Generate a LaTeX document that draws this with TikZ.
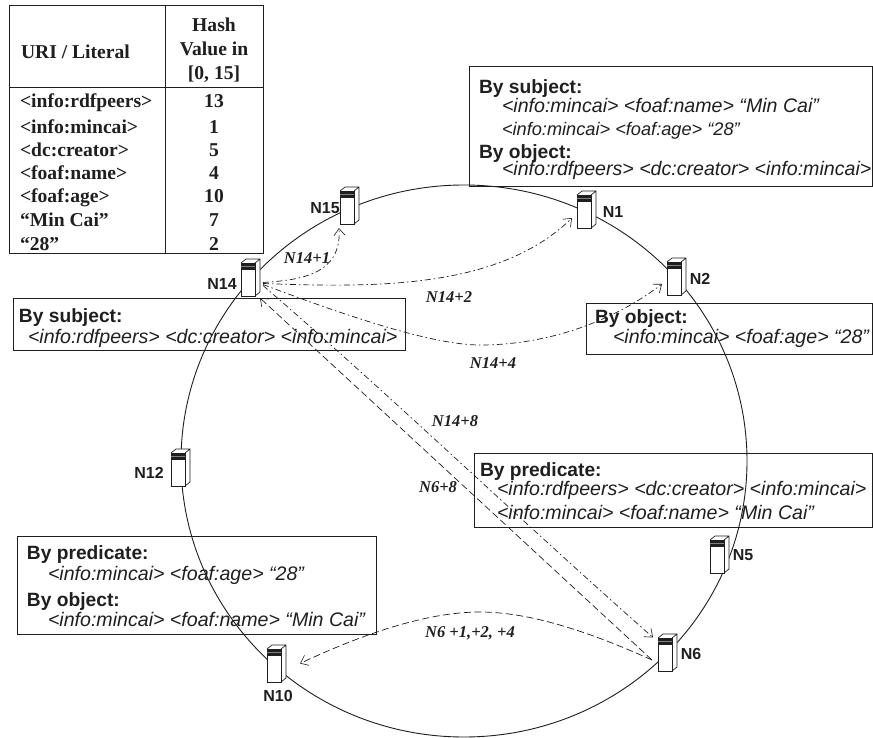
\documentclass[tikz,border=0pt]{standalone}
\usepackage{fontspec}
\setmainfont{Liberation Serif}
\setsansfont{Liberation Sans}
\usetikzlibrary{arrows.meta}
\definecolor{ink}{gray}{0.12}
\tikzset{
  x=1pt,y=-1pt,
  inner sep=0pt,outer sep=0pt,
  >={Straight Barb[length=7pt,width=11pt,line width=.6pt]},
  frame/.style={draw=ink,line width=1pt,rectangle},
  head/.style={anchor=base west,font=\sffamily\bfseries\fontsize{19.2}{21}\selectfont,text=ink},
  triple/.style={anchor=base west,font=\sffamily\itshape\fontsize{19.6}{21}\selectfont,text=ink},
  smalltriple/.style={anchor=base west,font=\sffamily\itshape\fontsize{18.2}{20}\selectfont,text=ink},
  cell/.style={anchor=base west,font=\bfseries\fontsize{19.6}{21}\selectfont,text=ink},
  num/.style={anchor=base,font=\bfseries\fontsize{19.6}{21}\selectfont,text=ink},
  hop/.style={font=\bfseries\itshape\fontsize{16.5}{18}\selectfont,text=ink},
  srvlabel/.style={font=\sffamily\bfseries\fontsize{16}{18}\selectfont,text=ink},
  srvbox/.style={draw=ink,fill=white,line width=.7pt,rectangle,minimum width=14pt,minimum height=33pt},
  link/.style={draw=ink,line width=.7pt},
  dashdot/.style={link,dash pattern=on 6pt off 3pt on 1.5pt off 3pt},
  longdash/.style={link,dash pattern=on 7pt off 3.5pt},
}
\newcommand{\srvunit}[2]{%
  \node[srvbox] (#1) at (#2) {};
  \fill[white] (#1.north west) -- ++(5,-4) -- ++(14,0) -- ++(0,33) -- ++(-5,4) -- ++(-14,0) -- cycle;
  \node[srvbox] (#1) at (#2) {};
  \draw[ink,line width=.7pt] (#1.north west) -- ++(5,-4) -- ++(14,0) -- ++(0,33) -- (#1.south east) (#1.north east) -- ++(5,-4);
  \fill[ink] ([shift={(.4,.4)}]#1.north west) rectangle ([shift={(-.4,7)}]#1.north east);
  \draw[gray,line width=.5pt] ([shift={(.4,3)}]#1.north west) -- ([shift={(-.4,3)}]#1.north east);
}
\begin{document}
\begin{tikzpicture}
\useasboundingbox (0,0) rectangle (873,738);
\fill[white] (0,0) rectangle (873,738);
% ring
\node[draw=none,minimum size=0pt] (ringc) at (464,461) {};
\draw[ink,line width=.9pt] (ringc) ellipse [x radius=283pt,y radius=276pt];
% table
\node[frame,minimum width=254pt,minimum height=248pt] (tbl) at (136,130) {};
\coordinate (colT) at (165,6);
\coordinate (colB) at (165,254);
\coordinate (rowL) at (9,88);
\coordinate (rowR) at (263,88);
\draw[ink,line width=1pt] (colT) -- (colB) (rowL) -- (rowR);
\node[cell] (thA) at (21,59) {URI / Literal};
\node[num] (thB) at (214,32) {Hash};
\node[num] (thC) at (214,56) {Value in};
\node[num] (thD) at (214,80) {[0, 15]};
\node[cell] (a1) at (20,108) {<info:rdfpeers>};
\node[cell] (a2) at (20,134) {<info:mincai>};
\node[cell] (a3) at (20,157) {<dc:creator>};
\node[cell] (a4) at (20,180) {<foaf:name>};
\node[cell] (a5) at (20,203) {<foaf:age>};
\node[cell] (a6) at (20,227) {“Min Cai”};
\node[cell] (a7) at (20,251) {“28”};
\node[num] (b1) at (214,108) {13};
\node[num] (b2) at (214,134) {1};
\node[num] (b3) at (214,157) {5};
\node[num] (b4) at (214,180) {4};
\node[num] (b5) at (214,203) {10};
\node[num] (b6) at (214,227) {7};
\node[num] (b7) at (214,251) {2};
% boxes
\node[frame,minimum width=392pt,minimum height=52pt] (boxA) at (209,324) {};
\node[head] (boxAa) at (19,322) {By subject:};
\node[triple] (boxAb) at (28,343) {<info:rdfpeers> <dc:creator> <info:mincai>};
\node[frame,minimum width=403pt,minimum height=120pt] (boxB) at (670.5,127) {};
\node[head] (boxBa) at (479,94) {By subject:};
\node[triple] (boxBb) at (502,113) {<info:mincai> <foaf:name> “Min Cai”};
\node[smalltriple] (boxBc) at (502,136) {<info:mincai> <foaf:age> “28”};
\node[head] (boxBd) at (479,159) {By object:};
\node[triple] (boxBe) at (502,176) {<info:rdfpeers> <dc:creator> <info:mincai>};
\node[frame,minimum width=286pt,minimum height=51pt] (boxC) at (729,328.5) {};
\node[head] (boxCa) at (595,323) {By object:};
\node[triple] (boxCb) at (613,343) {<info:mincai> <foaf:age> “28”};
\node[frame,minimum width=398pt,minimum height=74pt] (boxD) at (673,490) {};
\node[head] (boxDa) at (480,476) {By predicate:};
\node[triple] (boxDb) at (497,495) {<info:rdfpeers> <dc:creator> <info:mincai>};
\node[triple] (boxDc) at (497,519) {<info:mincai> <foaf:name> “Min Cai”};
\node[frame,minimum width=359pt,minimum height=98pt] (boxE) at (196.5,585) {};
\node[head] (boxEa) at (27,559) {By predicate:};
\node[triple] (boxEb) at (48,580) {<info:mincai> <foaf:age> “28”};
\node[head] (boxEc) at (27,606) {By object:};
\node[triple] (boxEd) at (48,626) {<info:mincai> <foaf:name> “Min Cai”};
% servers
\srvunit{n15}{347,207.5}
\srvunit{n14}{248,279.5}
\srvunit{n1}{584,211.5}
\srvunit{n2}{674,278.5}
\srvunit{n12}{178,469.5}
\srvunit{n10}{274,665.5}
\srvunit{n5}{717,556.5}
\srvunit{n6}{665,654.5}
\node[srvlabel] (ln15) at (325,208) {N15};
\node[srvlabel] (ln14) at (222,284) {N14};
\node[srvlabel] (ln1) at (613,212) {N1};
\node[srvlabel] (ln2) at (700,279) {N2};
\node[srvlabel] (ln12) at (149,473) {N12};
\node[srvlabel] (ln10) at (278,696) {N10};
\node[srvlabel] (ln5) at (743,555) {N5};
\node[srvlabel] (ln6) at (691,654) {N6};
% connectors
\draw[dashdot,->] ([shift={(8,3)}]n14.east) .. controls (300,280) and (342,275) .. ([shift={(-8,4)}]n15.south);
\draw[dashdot,->] ([shift={(8,4)}]n14.east) .. controls (380,288) and (500,288) .. ([shift={(-19,6.5)}]n1.east);
\draw[dashdot,->] ([shift={(8,5)}]n14.east) .. controls (370,325) and (440,345) .. (480,345) .. controls (550,345) and (615,320) .. ([shift={(-19,5.5)}]n2.east);
\draw[dashdot,->] ([shift={(8,6)}]n14.east) .. controls (390,395) and (520,520) .. ([shift={(-5,-17)}]n6.west);
\coordinate (n6out) at (652,660);
\draw[longdash,->] (n6out) -- ([shift={(12,2)}]n14.south);
\draw[longdash,->] (n6out) .. controls (590,632) and (530,612) .. (480,612) .. controls (420,612) and (350,640) .. ([shift={(19,-2)}]n10.east);
% hop labels
\node[hop] (h1) at (307,258) {N14+1};
\node[hop] (h2) at (449,297) {N14+2};
\node[hop] (h3) at (493,363) {N14+4};
\node[hop] (h4) at (455,421) {N14+8};
\node[hop] (h5) at (438,487) {N6+8};
\node[hop] (h6) at (470,633) {N6 +1,+2, +4};
\end{tikzpicture}
\end{document}
